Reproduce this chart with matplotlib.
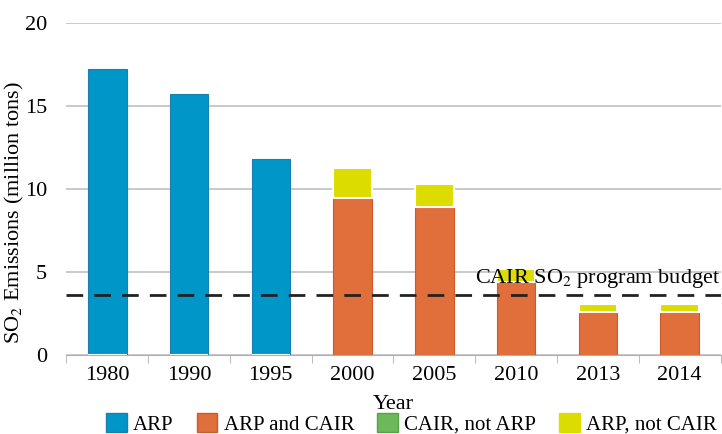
import numpy as np
import matplotlib.pyplot as plt
from matplotlib.patches import Patch

# data
years = ['1980', '1990', '1995', '2000', '2005', '2010', '2013', '2014']
arp = [17.2, 15.7, 11.8, 0, 0, 0, 0, 0]
arp_and_cair = [0, 0, 0, 9.45, 8.9, 4.4, 2.6, 2.6]
cair_not_arp = [0, 0, 0, 0, 0, 0, 0, 0]
arp_not_cair = [0, 0, 0, 1.8, 1.4, 0.8, 0.5, 0.45]
budget = 3.6

plt.rcParams['font.family'] = ['Liberation Serif', 'DejaVu Serif']
plt.rcParams['mathtext.fontset'] = 'stix'

blue = '#0096c8'
orange = '#e06f3c'
green = '#6cb85a'
yellow = '#dcdc00'

fig = plt.figure(figsize=(7.22, 4.34), dpi=100)
ax = fig.add_axes([0.092, 0.182, 0.906, 0.765])

x = np.arange(len(years))
w = 0.47
ax.bar(x, arp, w, color=blue, edgecolor='#1a7fae', linewidth=0.8, zorder=2)
ax.bar(x, arp_and_cair, w, color=orange, edgecolor='#cc5a2a', linewidth=0.8, zorder=2)
bottom2 = np.array(arp_and_cair)
ax.bar(x, cair_not_arp, w, bottom=bottom2, color=green, zorder=2)
bottom3 = bottom2 + np.array(cair_not_arp)
ax.bar(x, arp_not_cair, w, bottom=bottom3, color=yellow, edgecolor='white', linewidth=1.5, zorder=2)

ax.axhline(budget, color='#222222', linestyle=(0, (6, 4)), linewidth=2, zorder=3)
ax.text(len(years) - 0.5, budget + 0.3, 'CAIR SO$_2$ program budget', ha='right', va='bottom',
        fontsize=16, zorder=4)

ax.set_xlim(-0.47, len(years) - 0.5)
ax.set_ylim(0, 20)
ax.set_yticks([0, 5, 10, 15, 20])
ax.yaxis.grid(True, color='#c0c0c0', linewidth=1.2, zorder=0)
ax.set_axisbelow(True)
for s in ['top', 'right', 'left']:
    ax.spines[s].set_visible(False)
ax.spines['bottom'].set_color('#b0b0b0')
ax.tick_params(axis='y', length=0, labelsize=16, pad=14)
ax.set_xticks(x)
ax.set_xticklabels(years, fontsize=16)
ax.set_xticks(np.arange(-0.5, len(years)), minor=True)
ax.tick_params(axis='x', which='major', length=0, pad=8)
ax.tick_params(axis='x', which='minor', length=6, color='#b0b0b0')
ax.set_xlabel('Year', fontsize=16, labelpad=7)
ax.set_ylabel('SO$_2$ Emissions (million tons)', fontsize=16)
ax.yaxis.set_label_coords(-0.062, 0.43)

handles = [Patch(facecolor=blue, edgecolor='#1a7fae'),
           Patch(facecolor=orange, edgecolor='#cc5a2a'),
           Patch(facecolor=green, edgecolor='#5aa048'),
           Patch(facecolor=yellow, edgecolor=yellow)]
labels = ['ARP', 'ARP and CAIR', 'CAIR, not ARP', 'ARP, not CAIR']
fig.legend(handles, labels, loc='lower center', bbox_to_anchor=(0.57, -0.045), ncol=4,
           frameon=False, fontsize=15, handlelength=1.0, handleheight=1.0,
           handletextpad=0.3, columnspacing=1.1)

plt.savefig('out.png', dpi=100)
